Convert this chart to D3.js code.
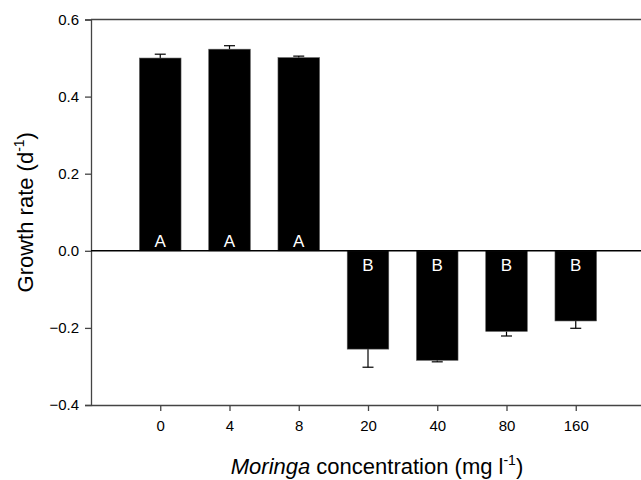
<!DOCTYPE html>
<html>
<head>
<meta charset="utf-8">
<script src="https://cdn.jsdelivr.net/npm/d3@7"></script>
<style>
  body { margin: 0; background: #fff; }
  text { font-family: "Liberation Sans", Arial, sans-serif; }
</style>
</head>
<body>
<script>
// chart data
var concentrations = ["0", "4", "8", "20", "40", "80", "160"];
var growthRates = [0.500, 0.523, 0.501, -0.255, -0.284, -0.209, -0.182];
var errors = [0.010, 0.009, 0.004, 0.047, 0.004, 0.012, 0.019];
var groups = ["A", "A", "A", "B", "B", "B", "B"];
var yTicks = [-0.4, -0.2, 0.0, 0.2, 0.4, 0.6];

var width = 641,
    height = 480;

var svg = d3.select("body").append("svg")
    .attr("width", width)
    .attr("height", height);

// x runs one step past the last bar, so the frame leaves the picture on the right
var x = d3.scaleLinear()
    .domain([-1, 7])
    .range([91, 645]);
var step = x(1) - x(0);
var barW = step * 0.6;

var y = d3.scaleLinear()
    .domain([-0.4, 0.6])
    .range([405, 19.5]);

var axisColor = "#444";

// frame line on top
svg.append("line")
    .attr("x1", x(-1)).attr("x2", x(7))
    .attr("y1", y(0.6)).attr("y2", y(0.6))
    .attr("stroke", axisColor).attr("stroke-width", 1.3);

// y axis
var yAxis = svg.append("g")
    .attr("transform", "translate(" + x(-1) + ",0)")
    .call(d3.axisLeft(y).tickValues(yTicks).tickFormat(d3.format(".1f")).tickSize(6).tickPadding(6));
yAxis.select(".domain").attr("stroke", axisColor).attr("stroke-width", 1.3);
yAxis.selectAll(".tick line").attr("stroke", axisColor).attr("stroke-width", 1.3);
yAxis.selectAll("text").attr("font-size", 15).attr("fill", "#000")
    .attr("font-family", "Liberation Sans, Arial, sans-serif");

// x axis
var xAxis = svg.append("g")
    .attr("transform", "translate(0," + y(-0.4) + ")")
    .call(d3.axisBottom(x)
        .tickValues(d3.range(concentrations.length))
        .tickFormat(function(i) { return concentrations[i]; })
        .tickSize(6).tickPadding(9)
        .tickSizeOuter(0));
xAxis.select(".domain").attr("stroke", axisColor).attr("stroke-width", 1.3);
xAxis.selectAll(".tick line").attr("stroke", axisColor).attr("stroke-width", 1.3);
xAxis.selectAll("text").attr("font-size", 15).attr("fill", "#000")
    .attr("font-family", "Liberation Sans, Arial, sans-serif");

// error bars, outward only
var eb = svg.append("g").selectAll("g")
    .data(growthRates)
    .enter().append("g");
eb.append("line")
    .attr("x1", function(d, i) { return x(i); })
    .attr("x2", function(d, i) { return x(i); })
    .attr("y1", function(d) { return y(d); })
    .attr("y2", function(d, i) { return y(d + Math.sign(d) * errors[i]); })
    .attr("stroke", "#000").attr("stroke-width", 1.2);
eb.append("line")
    .attr("x1", function(d, i) { return x(i) - 5.5; })
    .attr("x2", function(d, i) { return x(i) + 5.5; })
    .attr("y1", function(d, i) { return y(d + Math.sign(d) * errors[i]); })
    .attr("y2", function(d, i) { return y(d + Math.sign(d) * errors[i]); })
    .attr("stroke", "#000").attr("stroke-width", 1.2);

// bars
svg.append("g").selectAll("rect")
    .data(growthRates)
    .enter().append("rect")
    .attr("x", function(d, i) { return x(i) - barW / 2; })
    .attr("width", barW)
    .attr("y", function(d) { return y(Math.max(0, d)); })
    .attr("height", function(d) { return Math.abs(y(d) - y(0)); })
    .attr("fill", "#000")
    .attr("stroke", "#555")
    .attr("stroke-width", 0.6);

// zero line
svg.append("line")
    .attr("x1", x(-1)).attr("x2", x(7))
    .attr("y1", y(0)).attr("y2", y(0))
    .attr("stroke", "#000").attr("stroke-width", 1.4);

// group letters
svg.append("g").selectAll("text")
    .data(groups)
    .enter().append("text")
    .attr("x", function(d, i) { return x(i); })
    .attr("y", function(d, i) { return growthRates[i] > 0 ? y(0) - 4 : y(0) + 20; })
    .attr("text-anchor", "middle")
    .attr("font-size", 17)
    .attr("fill", "#fff")
    .text(function(d) { return d; });

// y title
var yt = svg.append("text")
    .attr("transform", "translate(33," + (y(0.6) + y(-0.4)) / 2 + ") rotate(-90)")
    .attr("text-anchor", "middle")
    .attr("font-size", 22)
    .attr("fill", "#000");
yt.append("tspan").text("Growth rate (d");
yt.append("tspan").attr("font-size", 14).attr("dy", -9).text("-1");
yt.append("tspan").attr("dy", 9).text(")");

// x title
var xt = svg.append("text")
    .attr("x", 377)
    .attr("y", 474)
    .attr("text-anchor", "middle")
    .attr("font-size", 22)
    .attr("fill", "#000");
xt.append("tspan").attr("font-style", "italic").text("Moringa");
xt.append("tspan").text(" concentration (mg l");
xt.append("tspan").attr("font-size", 14).attr("dy", -9).text("-1");
xt.append("tspan").attr("dy", 9).text(")");
</script>
</body>
</html>
